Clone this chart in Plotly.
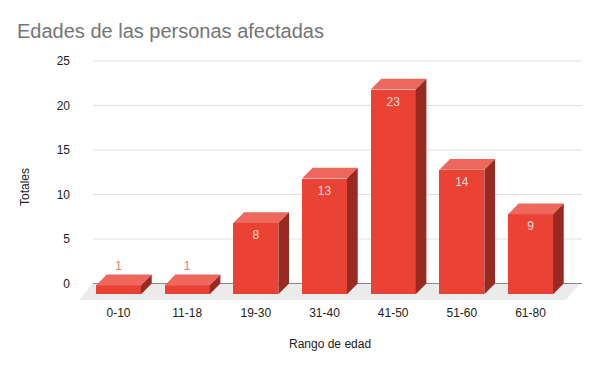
import plotly.graph_objects as go

# ---- data ----
categories = ["0-10", "11-18", "19-30", "31-40", "41-50", "51-60", "61-80"]
values = [1, 1, 8, 13, 23, 14, 9]
y_ticks = [0, 5, 10, 15, 20, 25]

title_text = "Edades de las personas afectadas"
x_title = "Rango de edad"
y_title = "Totales"

# ---- layout geometry (pixels) ----
W, H = 600, 371
L, R, T, B = 76, 590, 55, 301
X0_PX = 118.5        # pixel of first category front centre
STEP_PX = 68.67      # pixel distance between categories
Y0_PX = 283.5        # pixel of value 0 on back plane
UNIT_PX = 8.9        # pixels per value unit

xr = [(L - X0_PX) / STEP_PX, (R - X0_PX) / STEP_PX]
yr = [(Y0_PX - B) / UNIT_PX, (Y0_PX - T) / UNIT_PX]

def px_x(p):  # pixel length -> x units
    return p / STEP_PX

def px_y(p):  # pixel length -> y units
    return p / UNIT_PX

bar_w = px_x(45)
dx = px_x(10.7)      # depth offset (to the back, right)
dy = px_y(10.8)      # depth offset (to the back, up)

FRONT = "#EA4335"
TOP = "#EE675C"
SIDE = "#992A22"

fig = go.Figure()

# front faces
fig.add_trace(go.Bar(
    x=list(range(len(categories))), y=values, base=-dy, width=bar_w,
    marker=dict(color=FRONT, line=dict(width=0)), hoverinfo="skip",
    showlegend=False))

# top & side faces
tx, ty, sx, sy = [], [], [], []
for i, v in enumerate(values):
    xl, xrt = i - bar_w / 2, i + bar_w / 2
    yb, yt = -dy, v - dy
    tx += [xl, xrt, xrt + dx, xl + dx, xl, None]
    ty += [yt, yt, yt + dy, yt + dy, yt, None]
    sx += [xrt, xrt + dx, xrt + dx, xrt, xrt, None]
    sy += [yb, yb + dy, yt + dy, yt, yb, None]
fig.add_trace(go.Scatter(x=tx, y=ty, mode="lines", fill="toself",
                         fillcolor=TOP, line=dict(width=0, color=TOP),
                         hoverinfo="skip", showlegend=False))
fig.add_trace(go.Scatter(x=sx, y=sy, mode="lines", fill="toself",
                         fillcolor=SIDE, line=dict(width=0, color=SIDE),
                         hoverinfo="skip", showlegend=False))

# data labels
in_x, in_y, in_t, out_x, out_y, out_t = [], [], [], [], [], []
for i, v in enumerate(values):
    if v >= 3:
        in_x.append(i); in_y.append(v - dy - px_y(13)); in_t.append(str(v))
    else:
        out_x.append(i); out_y.append(v + px_y(8)); out_t.append(str(v))
fig.add_trace(go.Scatter(x=in_x, y=in_y, text=in_t, mode="text",
                         textfont=dict(family="Arial", size=12, color="#FBDAD6"),
                         hoverinfo="skip", showlegend=False))
fig.add_trace(go.Scatter(x=out_x, y=out_y, text=out_t, mode="text",
                         textfont=dict(family="Arial", size=12, color="#F07870"),
                         hoverinfo="skip", showlegend=False))

# floor and gridlines (below traces)
n = len(categories)
fl_back_l = px_x(93 - X0_PX)
fl_back_r = (n - 1) + px_x(580 - (X0_PX + STEP_PX * (n - 1)))
fdx, fdy = px_x(14), px_y(16.5)
shapes = [dict(type="path", xref="x", yref="y", layer="below",
               path=f"M{fl_back_l - fdx},{-fdy} L{fl_back_l},0 L{fl_back_r},0 L{fl_back_r - fdx},{-fdy} Z",
               fillcolor="#EBEBEB", line=dict(width=0))]
grid_r = fl_back_r + px_x(2)
for t in y_ticks:
    shapes.append(dict(type="line", xref="x", yref="y", layer="below",
                       x0=fl_back_l, x1=grid_r, y0=t, y1=t,
                       line=dict(color="#888888" if t == 0 else "#E0E0E0", width=1)))

fig.update_layout(
    width=W, height=H,
    margin=dict(l=L, r=W - R, t=T, b=H - B, pad=0),
    paper_bgcolor="white", plot_bgcolor="white",
    font=dict(family="Arial", size=12, color="#222222"),
    title=dict(text=title_text, x=17 / W, xref="container", xanchor="left",
               y=1 - 31 / H, yref="container", yanchor="middle",
               font=dict(family="Arial", size=20, color="#757575")),
    xaxis=dict(range=xr, tickvals=list(range(n)), ticktext=categories,
               showgrid=False, zeroline=False, showline=False, ticks="",
               ticklabelstandoff=3,
               tickfont=dict(size=12, color="#222222"), fixedrange=True),
    yaxis=dict(range=yr, tickvals=y_ticks, showgrid=False, zeroline=False,
               showline=False, ticks="", ticklabelstandoff=5,
               tickfont=dict(size=12, color="#222222"), fixedrange=True),
    shapes=shapes,
    annotations=[
        dict(text=x_title, x=329.5 / W, y=1 - 344 / H, xref="paper", yref="paper",
             showarrow=False, font=dict(size=12, color="#222222"),
             xanchor="center", yanchor="middle"),
        dict(text=y_title, x=25 / W, y=1 - 187 / H, xref="paper", yref="paper",
             showarrow=False, textangle=-90, font=dict(size=12, color="#222222"),
             xanchor="center", yanchor="middle"),
    ],
    bargap=0,
)

# annotations given in page pixels -> convert to plot-area paper coords
for a in fig.layout.annotations:
    px_ = a.x * W
    py_ = (1 - a.y) * H
    a.x = (px_ - L) / (R - L)
    a.y = 1 - (py_ - T) / (B - T)

fig.write_html("out.html", config={"displayModeBar": False},
               post_script="document.body.style.margin='0px';document.body.style.overflow='hidden';")
